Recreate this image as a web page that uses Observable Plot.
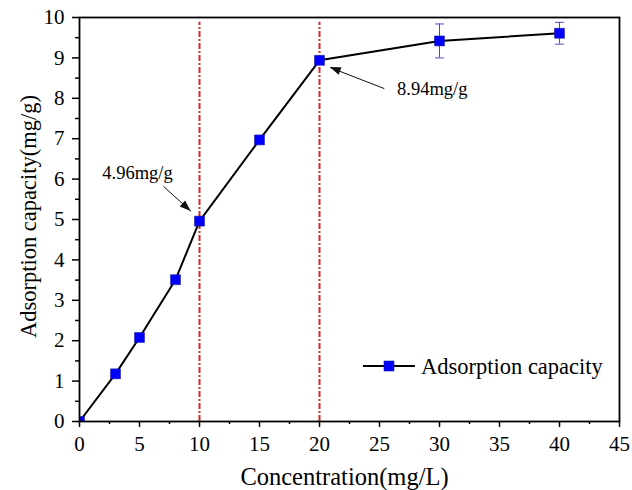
<!DOCTYPE html>
<html>
<head>
<meta charset="utf-8">
<script src="https://cdn.jsdelivr.net/npm/d3@7"></script>
<script src="https://cdn.jsdelivr.net/npm/@observablehq/plot@0.6"></script>
<style>
  body { margin: 0; background: #fff; }
  #chart svg { display: block; }
  #chart svg text { font-family: 'Liberation Serif', 'Times New Roman', serif !important; }
</style>
</head>
<body>
<div id="chart"></div>
<script>
// Adsorption capacity versus initial concentration
const concentration = [0, 3, 5, 8, 10, 15, 20, 30, 40];
const capacity = [0, 1.18, 2.08, 3.51, 4.96, 6.97, 8.94, 9.42, 9.61];
const capacityError = [0, 0, 0, 0, 0, 0, 0, 0.42, 0.27];

// Concentrations marked with vertical reference lines
const breakpoints = [10, 20];

// Axis ticks
const xTicks = [0, 5, 10, 15, 20, 25, 30, 35, 40, 45];
const xMinorTicks = [2.5, 7.5, 12.5, 17.5, 22.5, 27.5, 32.5, 37.5, 42.5];
const yTicks = [0, 1, 2, 3, 4, 5, 6, 7, 8, 9, 10];
const yMinorTicks = [0.5, 1.5, 2.5, 3.5, 4.5, 5.5, 6.5, 7.5, 8.5, 9.5];

const xTitle = "Concentration(mg/L)";
const yTitle = "Adsorption capacity(mg/g)";
const seriesName = "Adsorption capacity";

// Callouts: index of the annotated point, text anchor and arrow tail/tip (data units)
const callouts = [
  {point: 4, tx: 4.83, ty: 6.14, x1: 7.0, y1: 5.82, x2: 9.3, y2: 5.2},
  {point: 6, tx: 29.4, ty: 8.24, x1: 25.4, y1: 8.24, x2: 20.9, y2: 8.76}
];

const data = concentration.map((c, i) => ({c, q: capacity[i], err: capacityError[i]}));
const withError = data.filter(d => d.err > 0);
const calloutData = callouts.map(d => ({...d, label: `${capacity[d.point]}mg/g`}));

const font = "'Liberation Serif', 'Times New Roman', serif";
const capHalf = 0.37;

// Filled arrowheads at the tip of each callout arrow
function arrowHeads(index, scales) {
  const g = d3.create("svg:g");
  for (const d of calloutData) {
    const x1 = scales.x(d.x1), y1 = scales.y(d.y1);
    const x2 = scales.x(d.x2), y2 = scales.y(d.y2);
    const a = Math.atan2(y2 - y1, x2 - x1);
    const len = 11, half = 4;
    const bx = x2 - len * Math.cos(a), by = y2 - len * Math.sin(a);
    const px = -Math.sin(a) * half, py = Math.cos(a) * half;
    g.append("path")
      .attr("d", `M${x2},${y2}L${bx + px},${by + py}L${bx - px},${by - py}Z`)
      .attr("fill", "#111");
  }
  return g.node();
}

// In-frame legend, lower right
function legend(index, scales, values, dims) {
  const right = dims.width - dims.marginRight;
  const bottom = dims.height - dims.marginBottom;
  const y = bottom - 55;
  const x0 = right - 256;
  const g = d3.create("svg:g");
  g.append("line").attr("x1", x0).attr("x2", x0 + 52).attr("y1", y).attr("y2", y)
    .attr("stroke", "#000").attr("stroke-width", 2);
  g.append("rect").attr("x", x0 + 21).attr("y", y - 5).attr("width", 10).attr("height", 10)
    .attr("fill", "#0000ff").attr("stroke", "#1a1aa0").attr("stroke-width", 0.6);
  g.append("text").attr("x", x0 + 58).attr("y", y).attr("dy", "0.34em")
    .attr("text-anchor", "start")
    .attr("font-family", font).attr("font-size", 22.5).attr("fill", "#000")
    .text(seriesName);
  return g.node();
}

const chart = Plot.plot({
  width: 632,
  height: 490,
  marginTop: 17,
  marginRight: 13,
  marginBottom: 69,
  marginLeft: 79,
  style: {fontFamily: font, color: "#000", background: "#fff"},
  x: {domain: [0, 45]},
  y: {domain: [0, 10]},
  marks: [
    Plot.ruleX(breakpoints, {x: d => d, y1: 0, y2: 9.88, stroke: "#d42a2a", strokeWidth: 2, strokeDasharray: "6,2,2,2"}),
    Plot.line(data, {x: "c", y: "q", stroke: "#000", strokeWidth: 2}),
    Plot.ruleX(withError, {x: "c", y1: d => d.q - d.err, y2: d => d.q + d.err, stroke: "#4b4bc8", strokeWidth: 1}),
    Plot.link(withError, {x1: d => d.c - capHalf, x2: d => d.c + capHalf, y1: d => d.q + d.err, y2: d => d.q + d.err, stroke: "#4b4bc8", strokeWidth: 1}),
    Plot.link(withError, {x1: d => d.c - capHalf, x2: d => d.c + capHalf, y1: d => d.q - d.err, y2: d => d.q - d.err, stroke: "#4b4bc8", strokeWidth: 1}),
    Plot.dot(data, {x: "c", y: "q", symbol: "square", r: 5.6, fill: "#0000ff", stroke: "#1a1aa0", strokeWidth: 0.6, clip: true}),
    Plot.link(calloutData, {x1: "x1", y1: "y1", x2: "x2", y2: "y2", stroke: "#111", strokeWidth: 1}),
    arrowHeads,
    Plot.text(calloutData, {x: "tx", y: "ty", text: "label", fontFamily: font, fontSize: 18.5, fill: "#000"}),
    Plot.axisX(xTicks, {tickSize: 6, tickPadding: 9, fontSize: 21, fontFamily: font, label: null, strokeWidth: 1.5}),
    Plot.axisX(xMinorTicks, {tickSize: 3, tickFormat: () => "", label: null, strokeWidth: 1.5}),
    Plot.axisY(yTicks, {tickSize: 7, tickPadding: 8, fontSize: 21, fontFamily: font, label: null, strokeWidth: 1.5}),
    Plot.axisY(yMinorTicks, {tickSize: 4, tickFormat: () => "", label: null, strokeWidth: 1.5}),
    Plot.frame({stroke: "#000", strokeWidth: 1.8}),
    Plot.text([xTitle], {frameAnchor: "bottom", dy: 56, text: d => d, fontFamily: font, fontSize: 24.5, fill: "#000", dx: -5, lineAnchor: "middle"}),
    Plot.text([yTitle], {frameAnchor: "left", dx: -51, dy: -3, rotate: -90, textAnchor: "middle", text: d => d, fontFamily: font, fontSize: 22.5, fill: "#000"}),
    legend
  ]
});

document.getElementById("chart").appendChild(chart);
</script>
</body>
</html>
